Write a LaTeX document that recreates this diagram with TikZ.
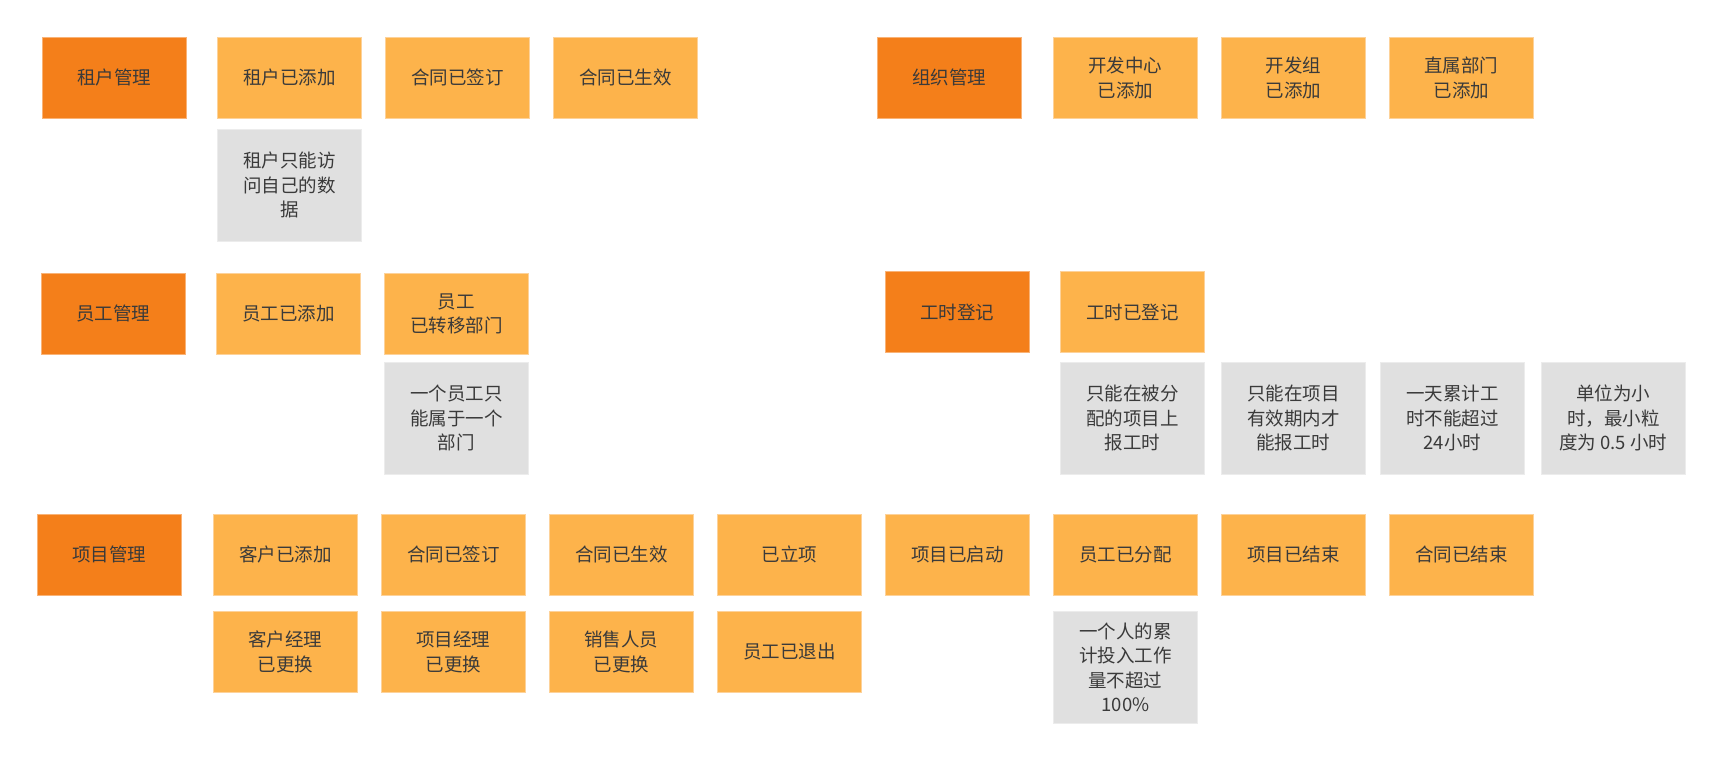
\documentclass[tikz,border=0pt]{standalone}
\usepackage{fontspec}
\setmainfont{Noto Sans CJK SC}
\definecolor{darkorg}{HTML}{F47F1A}
\definecolor{lightorg}{HTML}{FDB34B}
\definecolor{lightorgedge}{HTML}{FDD29A}
\definecolor{darkorgedge}{HTML}{F9B377}
\definecolor{graybox}{HTML}{E0E0E0}
\definecolor{grayedge}{HTML}{ECECEC}
\definecolor{txt}{HTML}{3A3A3A}
\tikzset{
  box/.style={anchor=north west, minimum width=144pt, minimum height=81pt, inner sep=0pt, align=center, text=txt, font=\fontsize{18.5}{24.5}\selectfont, line width=0.8pt, yshift=-1.5pt},
  cat/.style={box, fill=darkorg, draw=darkorgedge},
  evt/.style={box, fill=lightorg, draw=lightorgedge},
  rule/.style={box, fill=graybox, draw=grayedge, minimum height=112pt},
}
\begin{document}
\begin{tikzpicture}[x=1pt,y=-1pt]
\useasboundingbox (0,0) rectangle (1722,760);
\begin{scope}[yshift=1.5pt]
% Row 1
\node[cat] (tm) at (42,37) {租户管理};
\node[evt] (ta) at (217,37) {租户已添加};
\node[evt] (hq1) at (385,37) {合同已签订};
\node[evt] (hs1) at (553,37) {合同已生效};
\node[rule] (tr) at (217,129) {租户只能访\\问自己的数\\据};
\node[cat] (om) at (877,37) {组织管理};
\node[evt] (kz) at (1053,37) {开发中心\\已添加};
\node[evt] (kg) at (1221,37) {开发组\\已添加};
\node[evt] (zs) at (1389,37) {直属部门\\已添加};
% Row 2
\node[cat] (ym) at (41,273) {员工管理};
\node[evt] (ya) at (216,273) {员工已添加};
\node[evt] (yz) at (384,273) {员工\\已转移部门};
\node[rule] (yr) at (384,362) {一个员工只\\能属于一个\\部门};
\node[cat] (gm) at (885,271) {工时登记};
\node[evt] (gd) at (1060,271) {工时已登记};
\node[rule] (g1) at (1060,362) {只能在被分\\配的项目上\\报工时};
\node[rule] (g2) at (1221,362) {只能在项目\\有效期内才\\能报工时};
\node[rule] (g3) at (1380,362) {一天累计工\\时不能超过\\24小时};
\node[rule] (g4) at (1541,362) {单位为小\\时，最小粒\\度为 0.5 小时};
% Row 3
\node[cat] (pm) at (37,514) {项目管理};
\node[evt] (ka) at (213,514) {客户已添加};
\node[evt] (hq2) at (381,514) {合同已签订};
\node[evt] (hs2) at (549,514) {合同已生效};
\node[evt] (lx) at (717,514) {已立项};
\node[evt] (qd) at (885,514) {项目已启动};
\node[evt] (fp) at (1053,514) {员工已分配};
\node[evt] (pj) at (1221,514) {项目已结束};
\node[evt] (hj) at (1389,514) {合同已结束};
\node[evt] (kh) at (213,611) {客户经理\\已更换};
\node[evt] (xj) at (381,611) {项目经理\\已更换};
\node[evt] (xs) at (549,611) {销售人员\\已更换};
\node[evt] (tc) at (717,611) {员工已退出};
\node[rule] (fr) at (1053,611) {一个人的累\\计投入工作\\量不超过\\100\%};
\end{scope}
\end{tikzpicture}
\end{document}
